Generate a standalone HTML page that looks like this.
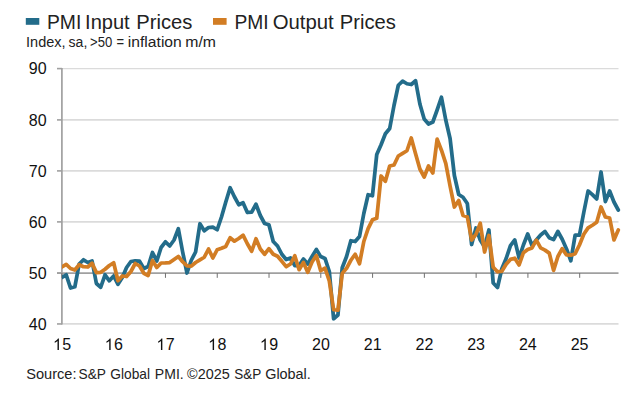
<!DOCTYPE html>
<html><head><meta charset="utf-8"><title>PMI Prices</title>
<style>
html,body{margin:0;padding:0;background:#fff;}
body{width:642px;height:400px;overflow:hidden;position:relative;font-family:"Liberation Sans",sans-serif;}
svg{position:absolute;left:0;top:0;}
text{font-family:"Liberation Sans",sans-serif;fill:#222222;}
.ax{font-size:16px;fill:#111;}
.lg{font-size:19.7px;fill:#1c1c1c;}
.sub{font-size:14.6px;fill:#1c1c1c;}
</style></head><body>
<svg width="642" height="400" viewBox="0 0 642 400">
<rect width="642" height="400" fill="#ffffff"/>
<rect x="25.8" y="18" width="13.5" height="6.8" fill="#236c8a"/>
<rect x="213" y="18" width="13.6" height="6.8" fill="#d27d24"/>
<line x1="62" y1="68.6" x2="618.5" y2="68.6" stroke="#dbdbdb" stroke-width="1.2"/>
<line x1="62" y1="119.9" x2="618.5" y2="119.9" stroke="#dbdbdb" stroke-width="1.75"/>
<line x1="62" y1="170.9" x2="618.5" y2="170.9" stroke="#dbdbdb" stroke-width="1.75"/>
<line x1="62" y1="221.9" x2="618.5" y2="221.9" stroke="#dbdbdb" stroke-width="1.75"/>
<line x1="62" y1="323.95" x2="618.5" y2="323.95" stroke="#dbdbdb" stroke-width="1.75"/>

<line x1="61.9" y1="67.9" x2="61.9" y2="324.5" stroke="#a0a0a0" stroke-width="1.7"/>
<line x1="57" y1="273.05" x2="618.5" y2="273.05" stroke="#a0a0a0" stroke-width="1.75"/>
<line x1="57" y1="68.6" x2="62" y2="68.6" stroke="#a0a0a0" stroke-width="1.6"/>
<line x1="57" y1="119.9" x2="62" y2="119.9" stroke="#a0a0a0" stroke-width="1.6"/>
<line x1="57" y1="170.9" x2="62" y2="170.9" stroke="#a0a0a0" stroke-width="1.6"/>
<line x1="57" y1="221.9" x2="62" y2="221.9" stroke="#a0a0a0" stroke-width="1.6"/>
<line x1="57" y1="273.05" x2="62" y2="273.05" stroke="#a0a0a0" stroke-width="1.6"/>
<line x1="57" y1="323.95" x2="62" y2="323.95" stroke="#a0a0a0" stroke-width="1.6"/>
<line x1="61.90" y1="273.05" x2="61.90" y2="277.85" stroke="#707070" stroke-width="1"/>
<line x1="113.68" y1="273.05" x2="113.68" y2="277.85" stroke="#707070" stroke-width="1"/>
<line x1="165.46" y1="273.05" x2="165.46" y2="277.85" stroke="#707070" stroke-width="1"/>
<line x1="217.24" y1="273.05" x2="217.24" y2="277.85" stroke="#707070" stroke-width="1"/>
<line x1="269.02" y1="273.05" x2="269.02" y2="277.85" stroke="#707070" stroke-width="1"/>
<line x1="320.80" y1="273.05" x2="320.80" y2="277.85" stroke="#707070" stroke-width="1"/>
<line x1="372.58" y1="273.05" x2="372.58" y2="277.85" stroke="#707070" stroke-width="1"/>
<line x1="424.36" y1="273.05" x2="424.36" y2="277.85" stroke="#707070" stroke-width="1"/>
<line x1="476.14" y1="273.05" x2="476.14" y2="277.85" stroke="#707070" stroke-width="1"/>
<line x1="527.92" y1="273.05" x2="527.92" y2="277.85" stroke="#707070" stroke-width="1"/>
<line x1="579.70" y1="273.05" x2="579.70" y2="277.85" stroke="#707070" stroke-width="1"/>

<text x="46.6" y="74.3" text-anchor="end" class="ax">90</text>
<text x="46.6" y="125.6" text-anchor="end" class="ax">80</text>
<text x="46.6" y="176.6" text-anchor="end" class="ax">70</text>
<text x="46.6" y="227.6" text-anchor="end" class="ax">60</text>
<text x="46.6" y="278.8" text-anchor="end" class="ax">50</text>
<text x="46.6" y="329.6" text-anchor="end" class="ax">40</text>
<path transform="translate(52.95,350) scale(0.0078125,-0.0078125)" d="M763 0H583V1147Q518 1085 412.5 1023Q307 961 223 930V1104Q374 1175 487 1276Q600 1377 647 1472H763Z" fill="#111"/><text x="62.35" y="350" class="ax">5</text>
<path transform="translate(104.67,350) scale(0.0078125,-0.0078125)" d="M763 0H583V1147Q518 1085 412.5 1023Q307 961 223 930V1104Q374 1175 487 1276Q600 1377 647 1472H763Z" fill="#111"/><text x="114.07" y="350" class="ax">6</text>
<path transform="translate(156.39,350) scale(0.0078125,-0.0078125)" d="M763 0H583V1147Q518 1085 412.5 1023Q307 961 223 930V1104Q374 1175 487 1276Q600 1377 647 1472H763Z" fill="#111"/><text x="165.79" y="350" class="ax">7</text>
<path transform="translate(208.11,350) scale(0.0078125,-0.0078125)" d="M763 0H583V1147Q518 1085 412.5 1023Q307 961 223 930V1104Q374 1175 487 1276Q600 1377 647 1472H763Z" fill="#111"/><text x="217.51" y="350" class="ax">8</text>
<path transform="translate(259.83,350) scale(0.0078125,-0.0078125)" d="M763 0H583V1147Q518 1085 412.5 1023Q307 961 223 930V1104Q374 1175 487 1276Q600 1377 647 1472H763Z" fill="#111"/><text x="269.23" y="350" class="ax">9</text>
<text x="320.95" y="350" text-anchor="middle" class="ax">20</text>
<text x="372.67" y="350" text-anchor="middle" class="ax">21</text>
<text x="424.39" y="350" text-anchor="middle" class="ax">22</text>
<text x="476.11" y="350" text-anchor="middle" class="ax">23</text>
<text x="527.83" y="350" text-anchor="middle" class="ax">24</text>
<text x="579.55" y="350" text-anchor="middle" class="ax">25</text>

<defs><clipPath id="cp"><rect x="62.1" y="60" width="565" height="270"/></clipPath></defs>
<g clip-path="url(#cp)">
<polyline fill="none" stroke="#236c8a" stroke-width="3.75" stroke-linejoin="round" stroke-linecap="round" points="61.90,277.50 66.21,274.80 70.53,288.00 74.84,286.80 79.15,264.00 83.47,259.80 87.78,262.50 92.09,261.00 96.40,283.50 100.72,287.25 105.03,274.80 109.34,280.80 113.66,276.00 117.97,284.30 122.28,277.50 126.59,267.50 130.91,261.50 135.22,260.80 139.53,261.20 143.85,268.50 148.16,266.50 152.47,252.50 156.79,261.00 161.10,247.50 165.41,241.80 169.72,246.00 174.04,240.00 178.35,228.75 182.66,252.00 186.98,273.00 191.29,260.25 195.60,252.00 199.92,223.75 204.23,230.80 208.54,227.50 212.85,227.20 217.17,229.75 221.48,217.00 225.79,202.00 230.11,187.75 234.42,196.75 238.73,204.70 243.05,202.75 247.36,212.50 251.67,212.20 255.98,204.25 260.30,215.50 264.61,223.50 268.92,224.75 273.24,241.50 277.55,246.00 281.86,254.25 286.18,259.50 290.49,258.00 294.80,265.50 299.11,265.50 303.43,259.00 307.74,264.00 312.05,256.50 316.37,249.40 320.68,256.60 324.99,258.40 329.31,271.50 333.62,318.75 337.93,315.00 342.24,267.75 346.56,256.50 350.87,240.75 355.18,241.50 359.50,236.50 363.81,213.50 368.12,194.75 372.44,195.80 376.75,154.50 381.06,144.75 385.37,133.80 389.69,128.50 394.00,105.50 398.31,85.25 402.63,81.20 406.94,83.75 411.25,84.50 415.57,80.75 419.88,104.00 424.19,119.00 428.50,124.00 432.82,122.00 437.13,110.00 441.44,97.25 445.76,120.00 450.07,138.50 454.38,175.50 458.70,194.50 463.01,197.30 467.32,203.50 471.63,244.50 475.95,228.00 480.26,240.00 484.57,247.00 488.89,230.00 493.20,283.00 497.51,287.50 501.83,268.75 506.14,258.50 510.45,245.60 514.76,240.00 519.08,258.00 523.39,245.00 527.70,234.00 532.02,245.60 536.33,240.00 540.64,235.00 544.96,231.50 549.27,237.75 553.58,239.60 557.89,231.50 562.21,239.25 566.52,248.90 570.83,260.75 575.15,235.10 579.46,235.10 583.77,212.50 588.09,191.00 592.40,194.60 596.71,199.00 601.02,172.00 605.34,201.60 609.65,191.00 613.96,202.00 618.28,210.00"/>
<polyline fill="none" stroke="#d27d24" stroke-width="3.75" stroke-linejoin="round" stroke-linecap="round" points="61.90,267.00 66.21,264.45 70.53,268.50 74.84,270.00 79.15,264.75 83.47,266.70 87.78,267.00 92.09,263.25 96.40,272.60 100.72,272.30 105.03,269.25 109.34,265.50 113.66,262.80 117.97,280.80 122.28,276.00 126.59,276.50 130.91,271.50 135.22,263.50 139.53,266.00 143.85,273.30 148.16,275.50 152.47,260.50 156.79,267.50 161.10,263.00 165.41,262.90 169.72,262.60 174.04,259.50 178.35,256.50 182.66,261.75 186.98,265.90 191.29,266.20 195.60,262.50 199.92,259.80 204.23,257.25 208.54,249.00 212.85,258.00 217.17,249.75 221.48,248.25 225.79,246.45 230.11,237.75 234.42,241.20 238.73,238.50 243.05,235.20 247.36,243.75 251.67,251.25 255.98,238.80 260.30,249.00 264.61,254.25 268.92,248.70 273.24,254.25 277.55,256.20 281.86,261.30 286.18,266.70 290.49,264.00 294.80,255.75 299.11,269.70 303.43,262.40 307.74,272.25 312.05,262.00 316.37,255.50 320.68,270.75 324.99,268.10 329.31,281.00 333.62,309.75 337.93,310.20 342.24,273.40 346.56,268.30 350.87,260.25 355.18,254.25 359.50,263.70 363.81,241.50 368.12,228.60 372.44,219.80 376.75,218.30 381.06,176.00 385.37,181.20 389.69,166.00 394.00,165.00 398.31,156.00 402.63,153.30 406.94,150.75 411.25,138.00 415.57,153.75 419.88,169.00 424.19,177.00 428.50,166.00 432.82,173.00 437.13,139.20 441.44,150.20 445.76,163.30 450.07,186.00 454.38,207.00 458.70,200.50 463.01,215.50 467.32,216.75 471.63,240.00 475.95,234.40 480.26,223.25 484.57,252.00 488.89,235.50 493.20,267.25 497.51,271.75 501.83,271.30 506.14,264.25 510.45,259.40 514.76,258.20 519.08,265.00 523.39,252.75 527.70,249.40 532.02,247.90 536.33,240.20 540.64,247.90 544.96,250.10 549.27,253.10 553.58,270.40 557.89,256.50 562.21,248.60 566.52,255.00 570.83,255.20 575.15,253.70 579.46,245.00 583.77,234.25 588.09,227.90 592.40,225.25 596.71,222.25 601.02,207.00 605.34,217.00 609.65,218.00 613.96,239.90 618.28,230.00"/>
</g>
<text x="47.01" y="28.8" font-size="19.4" textLength="34.27" lengthAdjust="spacingAndGlyphs">PMI</text>
<text x="85.07" y="28.8" font-size="19.4" textLength="44.60" lengthAdjust="spacingAndGlyphs">Input</text>
<text x="136.26" y="28.8" font-size="19.4" textLength="56.06" lengthAdjust="spacingAndGlyphs">Prices</text>
<text x="234.41" y="28.8" font-size="19.4" textLength="34.17" lengthAdjust="spacingAndGlyphs">PMI</text>
<text x="272.70" y="28.8" font-size="19.4" textLength="61.06" lengthAdjust="spacingAndGlyphs">Output</text>
<text x="339.86" y="28.8" font-size="19.4" textLength="56.06" lengthAdjust="spacingAndGlyphs">Prices</text>
<text x="26.04" y="46.9" font-size="15.2" textLength="39.52" lengthAdjust="spacingAndGlyphs">Index,</text>
<text x="68.60" y="46.9" font-size="15.2" textLength="18.73" lengthAdjust="spacingAndGlyphs">sa,</text>
<text x="90.10" y="46.9" font-size="15.2" textLength="22.18" lengthAdjust="spacingAndGlyphs">&gt;50</text>
<text x="116.60" y="46.9" font-size="15.2" textLength="7.59" lengthAdjust="spacingAndGlyphs">=</text>
<text x="127.87" y="46.9" font-size="15.2" textLength="53.89" lengthAdjust="spacingAndGlyphs">inflation</text>
<text x="185.26" y="46.9" font-size="15.2" textLength="30.72" lengthAdjust="spacingAndGlyphs">m/m</text>
<text x="26.20" y="379.0" font-size="15.0" textLength="50.34" lengthAdjust="spacingAndGlyphs">Source:</text>
<text x="78.60" y="379.0" font-size="15.0" textLength="27.40" lengthAdjust="spacingAndGlyphs">S&amp;P</text>
<text x="110.30" y="379.0" font-size="15.0" textLength="39.70" lengthAdjust="spacingAndGlyphs">Global</text>
<text x="154.87" y="379.0" font-size="15.0" textLength="28.83" lengthAdjust="spacingAndGlyphs">PMI.</text>
<text x="187.10" y="379.0" font-size="15.0" textLength="42.63" lengthAdjust="spacingAndGlyphs">©2025</text>
<text x="234.20" y="379.0" font-size="15.0" textLength="27.00" lengthAdjust="spacingAndGlyphs">S&amp;P</text>
<text x="265.20" y="379.0" font-size="15.0" textLength="45.62" lengthAdjust="spacingAndGlyphs">Global.</text>
</svg>
</body></html>
